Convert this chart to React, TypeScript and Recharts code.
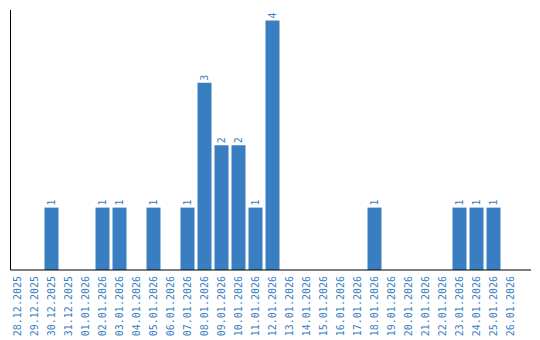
import React from 'react';
import { BarChart, Bar, XAxis, YAxis, LabelList } from 'recharts';

const categories = [
  '28.12.2025', '29.12.2025', '30.12.2025', '31.12.2025',
  '01.01.2026', '02.01.2026', '03.01.2026', '04.01.2026', '05.01.2026',
  '06.01.2026', '07.01.2026', '08.01.2026', '09.01.2026', '10.01.2026',
  '11.01.2026', '12.01.2026', '13.01.2026', '14.01.2026', '15.01.2026',
  '16.01.2026', '17.01.2026', '18.01.2026', '19.01.2026', '20.01.2026',
  '21.01.2026', '22.01.2026', '23.01.2026', '24.01.2026', '25.01.2026',
  '26.01.2026',
];
const counts = [
  0, 0, 1, 0,
  0, 1, 1, 0, 1,
  0, 1, 3, 2, 2,
  1, 4, 0, 0, 0,
  0, 0, 1, 0, 0,
  0, 0, 1, 1, 1,
  0,
];

const data = categories.map((c, i) => ({ date: c, value: counts[i] }));

const BLUE = '#3a7ec2';
const FONT = '"DejaVu Sans Mono", monospace';

const Tick = (props: any) => {
  const { x, y, payload } = props;
  const ty = y + 6;
  return (
    <text
      x={x}
      y={ty}
      transform={`rotate(-90, ${x}, ${ty})`}
      textAnchor="end"
      dominantBaseline="central"
      fill={BLUE}
      fontFamily={FONT}
      fontSize={10}
    >
      {payload.value}
    </text>
  );
};

const ValueLabel = (props: any) => {
  const { x, y, width, value } = props;
  if (!value) return null;
  const cx = x + width / 2;
  const ty = y - 2;
  return (
    <text
      x={cx}
      y={ty}
      transform={`rotate(-90, ${cx}, ${ty})`}
      textAnchor="start"
      dominantBaseline="central"
      fill={BLUE}
      fontFamily={FONT}
      fontSize={10}
    >
      {value}
    </text>
  );
};

export default function App() {
  return (
    <div style={{ position: 'absolute', left: 0, top: 0, width: 540, height: 340, background: '#fff' }}>
      <BarChart
        width={540}
        height={340}
        data={data}
        margin={{ top: 10, right: 9, bottom: 0, left: 0 }}
      >
        <XAxis
          dataKey="date"
          height={70}
          interval={0}
          tickLine={false}
          tickSize={0}
          tickMargin={0}
          axisLine={{ stroke: '#000', strokeWidth: 1 }}
          tick={<Tick />}
          padding={{ left: -2, right: 12.5 }}
        />
        <YAxis
          width={10.5}
          domain={[0, 4.167]}
          tick={false}
          tickLine={false}
          axisLine={{ stroke: '#000', strokeWidth: 1 }}
        />
        <Bar dataKey="value" fill={BLUE} barSize={14} isAnimationActive={false}>
          <LabelList dataKey="value" content={<ValueLabel />} />
        </Bar>
      </BarChart>
    </div>
  );
}
